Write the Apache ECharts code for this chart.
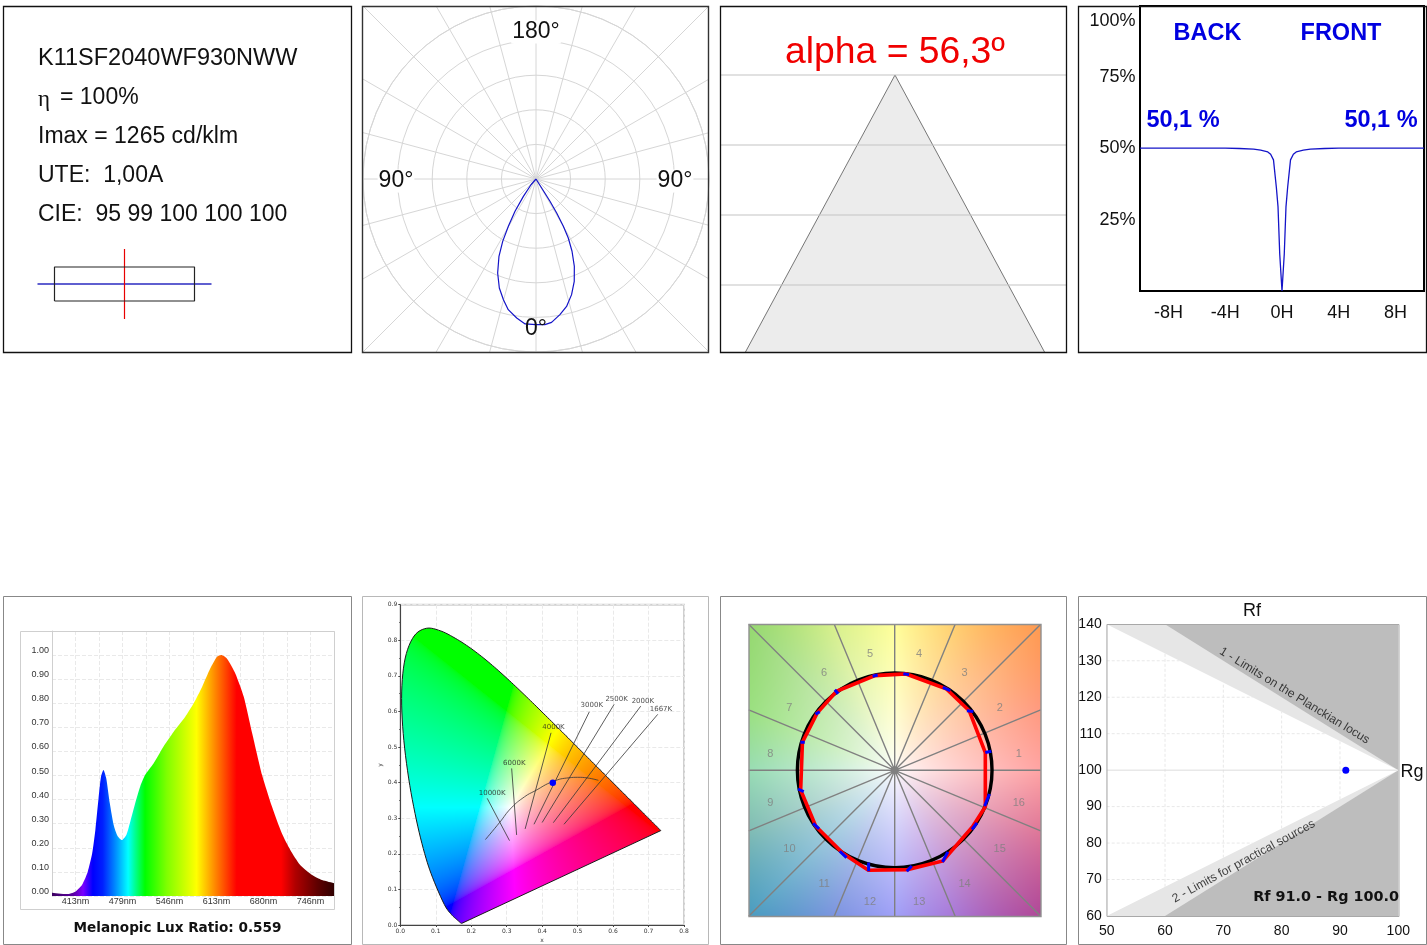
<!DOCTYPE html>
<html><head><meta charset="utf-8">
<style>html,body{margin:0;padding:0;background:#fff}#c{width:1427px;height:945px}</style>
<script src="https://cdn.jsdelivr.net/npm/echarts@6/dist/echarts.min.js"></script></head>
<body><div id="c"></div>
<script>
// ---------- DATA ----------
const infoLines = ['K11SF2040WF930NWW','= 100%','Imax = 1265 cd/klm','UTE:  1,00A','CIE:  95 99 100 100 100'];
const luminaireBox = [[-70,-17],[70,-17],[70,17],[-70,17],[-70,-17]];
const polarAngles = [41,41,36,33,30.3,28.1,25.6,22.2,18.6,15.1,12,7.9,4.3,0,356.5,353.8,350,346.5,342.9,339.5,336.3,333.5,331.3,330,328.7,327.9,327.8,327.8];
const polarValues = [0,66,186,334,475,613,743,880,997,1084,1158,1217,1260,1262,1265,1250,1194,1136,1049,947,827,700,583,474,345,228,92,0];
const spokeAngles = [0,15,30,45,60,75,90,105,120,135,150,165];
const coneX = [-2.136,0,2.136];
const coneY = [-3.957,0,-3.957];
const coneLevels = [0,-1,-2,-3];
const glareX = [-10,-8,-6,-4,-3,-2,-1.5,-1,-0.8,-0.6,-0.4,-0.28,-0.16,0,0.16,0.28,0.4,0.6,0.8,1,1.5,2,3,4,6,8,10];
const glareY = [50.1,50.1,50.1,50.1,50,49.8,49.4,48.8,48,46,36.5,29.5,13,0,13,29.5,36.5,46,48,48.8,49.4,49.8,50,50.1,50.1,50.1,50.1];
const glareTicks = {'-8':'-8H','-4':'-4H','0':'0H','4':'4H','8':'8H'};
const specNm = [380,401,413,422.5,430.6,437,441.5,446,449.5,453,457,462,467.5,473,479,485.5,491,498,505,512,524,538,552.6,569,581,593,604.6,614,620,628,640,652,664,678,692,706,718,732,749,763,780];
const specVal = [.014,.008,.018,.046,.10,.177,.274,.405,.495,.523,.488,.385,.295,.249,.232,.253,.308,.385,.454,.502,.55,.62,.682,.744,.80,.869,.945,.993,1,.986,.924,.827,.675,.502,.371,.26,.191,.129,.087,.066,.053];
const specTickLabels = ['', '413nm','', '479nm','', '546nm','', '613nm','', '680nm','', '746nm',''];
const specStops = [[380,'#3c0060'],[410,'#5a00a0'],[424,'#7a00ff'],[438,'#0000ff'],[452,'#0020ff'],[468,'#0080ff'],[488,'#00ffff'],[498,'#00ff90'],[512,'#00ff00'],[543,'#80ff00'],[585,'#ffff00'],[613,'#ff8000'],[642,'#ff0000'],[705,'#ff0000'],[725,'#b00000'],[756,'#600000'],[780,'#300000']];
const locusX = [.1741,.1714,.1644,.1566,.1440,.1241,.0913,.0687,.0454,.0235,.0082,.0039,.0139,.0389,.0743,.1142,.1547,.1929,.2296,.2658,.3016,.3373,.3731,.4087,.4441,.4788,.5125,.5448,.5752,.6270,.6658,.6915,.7079,.7260,.7347];
const locusY = [.0050,.0051,.0109,.0177,.0297,.0578,.1327,.2007,.2950,.4127,.5384,.6548,.7502,.8120,.8338,.8262,.8059,.7816,.7543,.7243,.6923,.6589,.6245,.5896,.5547,.5202,.4866,.4544,.4242,.3725,.3340,.3083,.2920,.2740,.2653];
const planckX = [.24,.28,.313,.35,.38,.43,.4764,.50,.5267,.5586];
const planckY = [.24,.288,.329,.36,.377,.403,.4137,.415,.4133,.4065];
const cctNames = ['1667K','2000K','2500K','3000K','4000K','6000K','10000K'];
const cctLabelX = [.735,.684,.61,.54,.432,.3215,.259];
const cctLabelY = [.606,.629,.634,.617,.555,.456,.37];
const cctFrom = [[.726,.592],[.678,.615],[.603,.62],[.533,.599],[.425,.54],[.314,.44],[.245,.356]];
const cctTo = [[.4616,.283],[.4315,.2875],[.40,.288],[.377,.283],[.352,.27],[.328,.253],[.308,.237]];
const cieDot = [.43,.40];
const hueBins = ['1','2','3','4','5','6','7','8','9','10','11','12','13','14','15','16'];
const hueLabelX = [1.275,1.079,.718,.251,-.254,-.725,-1.082,-1.278,-1.278,-1.082,-.725,-.254,.251,.718,1.079,1.275];
const hueLabelY = [.172,.639,1.0,1.192,1.192,1.0,.639,.172,-.333,-.804,-1.165,-1.357,-1.357,-1.165,-.804,-.333];
const testX = [.931,.766,.529,.117,-.203,-.598,-.797,-.948,-.966,-.811,-.529,-.271,.131,.495,.80,.931];
const testY = [.182,.612,.838,.99,.973,.811,.588,.289,-.203,-.574,-.856,-1.027,-1.02,-.931,-.58,-.375];
const shiftStart = [[.931,.182],[.742,.612],[.495,.852],[.089,.993],[-.227,.966],[-.615,.828],[-.814,.577],[-.969,.289],[-.993,-.192],[-.838,-.546],[-.564,-.832],[-.268,-1.038],[.124,-1.038],[.491,-.942],[.794,-.608],[.924,-.368]];
const shiftEnd = [[.993,.196],[.808,.605],[.57,.818],[.148,.983],[-.175,.979],[-.581,.787],[-.77,.601],[-.924,.289],[-.935,-.22],[-.777,-.601],[-.495,-.897],[-.268,-.948],[.175,-.983],[.546,-.838],[.845,-.54],[.973,-.244]];
const hueEdgeColors = ['#ffa4a4','#ff9a80','#ff9a50','#ffd070','#ffff9a','#d8f08c','#95d870','#9ae080','#98dcb4','#80bcb4','#4a9cc0','#7c94e0','#a0a0f8','#a878d8','#b04898','#e07898'];
const rfLimitsOuter = [[50,140],[60,140],[100,100],[60,60],[50,60]];
const rfLimitsInner = [[50,140],[100,100],[50,60]];
const rfGridV = [[60,68,132],[70,76,124],[80,84,116],[90,92,108]];
const rfGridH = [[130,62.5],[120,75],[110,87.5],[90,87.5],[80,75],[70,62.5]];
const rfRg = [91,100];
const rfSummary = 'Rf 91.0 - Rg 100.0';

// ---------- LAYOUT ----------
const R = {
  lum:[37.5,249,174,70], pol:[362,6,346,346], cone:[720,6,346,346], gl:[1140,6,284,285],
  spec:[52,631,282,265], cie:[400.3,604.7,283.7,320.3], hue:[748.7,624.3,292,292], rf:[1106.7,624.3,291.6,291.7]
};
const SANS = '"Liberation Sans",Arial,sans-serif', DEJA = '"DejaVu Sans",Verdana,sans-serif';
const gridOf = k => ({left:R[k][0],top:R[k][1],width:R[k][2],height:R[k][3],containLabel:false});
const hidden = (min,max) => ({type:'value',min,max,show:false,splitLine:{show:false}});

// canvas fills
function cieCanvas(){
  const c=document.createElement('canvas');c.width=1427;c.height=945;
  const g=c.getContext('2d'),[L,T,W,H]=R.cie,id=g.createImageData(Math.ceil(W)+2,Math.ceil(H)+2);
  const en=v=>255*Math.pow(v,1/2.2);
  for(let j=0;j<id.height;j++)for(let i=0;i<id.width;i++){
    const x=(i+.5)/W*.8,y=Math.max(1e-3,(H-j-.5)/H*.9),X=x/y,Z=(1-x-y)/y;
    let r=Math.max(0,3.2406*X-1.5372-.4986*Z),gg=Math.max(0,-.9689*X+1.8758+.0415*Z),b=Math.max(0,.0557*X-.204+1.057*Z);
    const m=Math.max(r,gg,b,1e-6),p=(j*id.width+i)*4;
    id.data[p]=en(r/m);id.data[p+1]=en(gg/m);id.data[p+2]=en(b/m);id.data[p+3]=255;
  }
  g.putImageData(id,Math.floor(L),Math.floor(T));return c;
}
function hueCanvas(){
  const S=292,c=document.createElement('canvas');c.width=S;c.height=S;
  const g=c.getContext('2d'),id=g.createImageData(S,S);
  const rgb=hueEdgeColors.map(h=>[1,3,5].map(i=>parseInt(h.substr(i,2),16)));
  for(let j=0;j<S;j++)for(let i=0;i<S;i++){
    const dx=(i+.5-S/2)/(S/2),dy=(S/2-j-.5)/(S/2);
    let a=Math.atan2(dy,dx);if(a<0)a+=2*Math.PI;
    const u=a/(Math.PI/8),k=Math.floor(u)%16,f=u-Math.floor(u),t=Math.pow(Math.min(1,Math.max(Math.abs(dx),Math.abs(dy))),.8),p=(j*S+i)*4;
    for(let q=0;q<3;q++){const e=rgb[k][q]*(1-f)+rgb[(k+1)%16][q]*f;id.data[p+q]=255*(1-t)+e*t;}
    id.data[p+3]=255;
  }
  g.putImageData(id,0,0);return c;
}
const ciePattern={image:cieCanvas(),repeat:'no-repeat'};
// rounds the drawn outline between the locus samples (screen space only)
function rounded(pts){
  const out=[];
  for(let i=0;i<pts.length-1;i++){
    const a=pts[Math.max(0,i-1)],b=pts[i],c=pts[i+1],d=pts[Math.min(pts.length-1,i+2)];
    for(let s=0;s<6;s++){const t=s/6,t2=t*t,t3=t2*t;
      out.push([0,1].map(k=>.5*(2*b[k]+(c[k]-a[k])*t+(2*a[k]-5*b[k]+4*c[k]-d[k])*t2+(3*b[k]-a[k]-3*c[k]+d[k])*t3)));}
  }
  out.push(pts[pts.length-1]);return out;
}

// series helpers
const segs=(idx,items,stroke,lineWidth,extra)=>({type:'custom',xAxisIndex:idx,yAxisIndex:idx,clip:true,silent:true,z:(extra&&extra.z)||3,data:items,
  renderItem:(p,api)=>{const a=api.coord([api.value(0),api.value(1)]),b=api.coord([api.value(2),api.value(3)]);
    return {type:'line',shape:{x1:a[0],y1:a[1],x2:b[0],y2:b[1]},style:{stroke,lineWidth,lineCap:(extra&&extra.cap)||'butt',lineDash:extra&&extra.dash}};}});
const poly=(idx,pts,fill,stroke,lw,z)=>({type:'custom',xAxisIndex:idx,yAxisIndex:idx,clip:true,silent:true,z,data:[0],
  renderItem:(p,api)=>({type:'polygon',shape:{points:pts.map(q=>api.coord(q))},style:{fill,stroke:stroke||null,lineWidth:lw||0}})});
const labels=(idx,pts,size,color,font,rotates,z)=>({type:'scatter',xAxisIndex:idx,yAxisIndex:idx,symbolSize:0,silent:true,z:z||6,
  data:pts.map((q,i)=>({value:[q[0],q[1]],label:{formatter:q[2],rotate:rotates?rotates[i]:0}})),
  label:{show:true,position:'inside',fontSize:size,color,fontFamily:font}});

// ---------- AXES ----------
const grid=[gridOf('lum'),gridOf('pol'),gridOf('cone'),
  Object.assign(gridOf('gl'),{show:true,borderColor:'#000',borderWidth:2}),
  gridOf('spec'),
  Object.assign(gridOf('cie'),{show:true,borderColor:'#cfcfcf',borderWidth:2}),
  gridOf('hue'),gridOf('rf')];
const dash={show:true,lineStyle:{color:'#e9e9e9',type:'dashed',width:1}};
const xAxis=[
  hidden(-87,87),hidden(-1508.7,1491.3),hidden(-2.5,2.443),
  {type:'value',min:-10,max:10,interval:2,axisLine:{show:false},axisTick:{show:false},splitLine:{show:false},
   axisLabel:{margin:13,fontSize:18,color:'#111',fontFamily:SANS,formatter:v=>glareTicks[v]||''}},
  {type:'value',min:0,max:12,interval:1,axisLine:{show:false},axisTick:{show:false},splitLine:dash,
   axisLabel:{margin:1,fontSize:9,color:'#333',fontFamily:SANS,formatter:v=>specTickLabels[v]||''}},
  {type:'value',min:0,max:.8,interval:.1,name:'x',nameLocation:'middle',nameGap:12,nameTextStyle:{fontSize:6,color:'#333',fontFamily:DEJA},
   axisLine:{lineStyle:{color:'#444',width:1}},axisTick:{length:2,lineStyle:{color:'#444'}},minorTick:{show:true,length:1,splitNumber:2,lineStyle:{color:'#444'}},splitLine:dash,
   axisLabel:{margin:3,fontSize:6,color:'#333',fontFamily:DEJA,formatter:v=>v.toFixed(1)}},
  hidden(-1.5,1.5),
  {type:'value',min:50,max:100,interval:10,axisLine:{show:false},axisTick:{show:false},splitLine:{show:false},
   axisLabel:{margin:8,fontSize:14,color:'#111',fontFamily:SANS}}
];
xAxis.forEach((a,i)=>a.gridIndex=i);
const yAxis=[
  hidden(-35,35),hidden(-1500,1500),hidden(-3.957,.986),
  {type:'value',min:0,max:100,interval:25,axisLine:{show:false},axisTick:{show:false},splitLine:{show:false},
   axisLabel:{margin:4.5,fontSize:18,color:'#111',fontFamily:SANS,verticalAlignMaxLabel:'top',padding:[6,0,0,0],formatter:v=>v?v+'%':''}},
  {type:'value',min:0,max:1.1,interval:.1,axisLine:{show:true,lineStyle:{color:'#cfcfcf',width:1}},axisTick:{show:false},splitLine:dash,
   axisLabel:{margin:3,fontSize:9,color:'#333',fontFamily:SANS,verticalAlign:'bottom',formatter:v=>v>1.05?'':v.toFixed(2)}},
  {type:'value',min:0,max:.9,interval:.1,name:'y',nameLocation:'middle',nameGap:15,nameTextStyle:{fontSize:6,color:'#333',fontFamily:DEJA},
   axisLine:{lineStyle:{color:'#444',width:1}},axisTick:{length:2,lineStyle:{color:'#444'}},minorTick:{show:true,length:1,splitNumber:2,lineStyle:{color:'#444'}},splitLine:dash,
   axisLabel:{margin:3,fontSize:6,color:'#333',fontFamily:DEJA,formatter:v=>v.toFixed(1)}},
  hidden(-1.5,1.5),
  {type:'value',min:60,max:140,interval:10,axisLine:{show:false},axisTick:{show:false},splitLine:{show:false},
   axisLabel:{margin:5,fontSize:14,color:'#111',fontFamily:SANS,padding:[5,0,0,0]}}
];
yAxis.forEach((a,i)=>a.gridIndex=i);

// ---------- SERIES ----------
const series=[];
// luminaire symbol
series.push({type:'line',xAxisIndex:0,yAxisIndex:0,data:luminaireBox,showSymbol:false,silent:true,lineStyle:{color:'#222',width:1.2}});
series.push(segs(0,[[-87,0,87,0]],'#2a2ac0',1.3));
series.push(segs(0,[[0,-35,0,35]],'#e80000',1.2));
// polar spokes and intensity curve
series.push(segs(1,spokeAngles.map(a=>{const t=a*Math.PI/180,s=3000*Math.sin(t),c=3000*Math.cos(t);return [-s,-c,s,c];}),'#d6d6d6',1,{z:1}));
series.push({type:'line',coordinateSystem:'polar',data:polarAngles.map((a,i)=>[polarValues[i],a]),showSymbol:false,silent:true,clip:false,z:4,lineStyle:{color:'#1414c8',width:1.2}});
// cone
series.push({type:'line',xAxisIndex:2,yAxisIndex:2,data:coneX.map((x,i)=>[x,coneY[i]]),showSymbol:false,silent:true,z:2,lineStyle:{color:'#555',width:.8},areaStyle:{color:'#ececec',opacity:1,origin:'start'}});
series.push(segs(2,coneLevels.map(v=>[-2.5,v,2.443,v]),'#c4c4c4',1.2,{z:3}));
// glare curve
series.push({type:'line',xAxisIndex:3,yAxisIndex:3,data:glareX.map((x,i)=>[x,glareY[i]]),showSymbol:false,silent:true,lineStyle:{color:'#1414c8',width:1.3}});
// spectrum
const toTick=nm=>(nm-380)/(400/12);
series.push({type:'line',xAxisIndex:4,yAxisIndex:4,data:specNm.map((n,i)=>[toTick(n),specVal[i]]),showSymbol:false,silent:true,smooth:.2,z:3,lineStyle:{width:0},
  areaStyle:{opacity:1,color:new echarts.graphic.LinearGradient(0,0,1,0,specStops.map(s=>({offset:(s[0]-380)/400,color:s[1]})))}});
// CIE diagram
series.push({type:'custom',xAxisIndex:5,yAxisIndex:5,silent:true,z:3,data:[0],renderItem:(p,api)=>({type:'polygon',
  shape:{points:rounded(locusX.map((x,i)=>api.coord([x,locusY[i]])))},style:{fill:ciePattern,stroke:'#1a1a1a',lineWidth:1}})});
series.push({type:'line',xAxisIndex:5,yAxisIndex:5,data:planckX.map((x,i)=>[x,planckY[i]]),showSymbol:false,silent:true,smooth:true,z:4,lineStyle:{color:'#333',width:.8}});
series.push(segs(5,cctFrom.map((f,i)=>[f[0],f[1],cctTo[i][0],cctTo[i][1]]),'#333',.8,{z:4}));
series.push(labels(5,cctNames.map((n,i)=>[cctLabelX[i],cctLabelY[i],n]),7,'#222',DEJA));
series.push({type:'scatter',xAxisIndex:5,yAxisIndex:5,data:[cieDot],symbolSize:6.5,silent:true,z:7,itemStyle:{color:'#0000ff',opacity:1}});
// colour vector graphic
const spoke=[];for(let i=0;i<8;i++){const t=i*Math.PI/8,s=Math.min(1.5/Math.abs(Math.cos(t)||1e-9),1.5/Math.abs(Math.sin(t)||1e-9));spoke.push([-s*Math.cos(t),-s*Math.sin(t),s*Math.cos(t),s*Math.sin(t)]);}
series.push(segs(6,spoke,'#808080',1.4,{z:3}));
series.push(labels(6,hueBins.map((b,i)=>[hueLabelX[i],hueLabelY[i],b]),11,'#808080',SANS));
series.push({type:'custom',xAxisIndex:6,yAxisIndex:6,silent:true,z:4,data:[[0,0]],renderItem:(p,api)=>{const c=api.coord([0,0]),r=api.size([1,1])[0];
  return {type:'group',children:[{type:'circle',shape:{cx:c[0],cy:c[1],r},style:{fill:null,stroke:'#000',lineWidth:3.4}},{type:'circle',shape:{cx:c[0],cy:c[1],r:4},style:{fill:'#808080'}}]};}});
series.push({type:'custom',xAxisIndex:6,yAxisIndex:6,silent:true,z:5,data:[0],renderItem:(p,api)=>({type:'polyline',shape:{points:testX.concat(testX[0]).map((x,i)=>api.coord([x,i<16?testY[i]:testY[0]]))},style:{fill:null,stroke:'#ff0000',lineWidth:3.6,lineJoin:'miter'}})});
series.push(segs(6,shiftStart.map((s,i)=>[s[0],s[1],shiftEnd[i][0],shiftEnd[i][1]]),'#0000ff',3,{z:6}));
// Rf / Rg
series.push(poly(7,[[50,60],[100,60],[100,140],[50,140]],'#bdbdbd',null,0,1));
series.push(poly(7,rfLimitsOuter,'#e6e6e6',null,0,2));
series.push(poly(7,rfLimitsInner,'#ffffff',null,0,3));
series.push(segs(7,rfGridV.map(v=>[v[0],v[1],v[0],v[2]]).concat(rfGridH.map(h=>[50,h[0],h[1],h[0]])),'#e8e8e8',1,{z:4,dash:[3,2]}));
series.push(segs(7,[[50,100,100,100]],'#dcdcdc',1,{z:4}));
series.push(labels(7,[[82.2,120.4,'1 - Limits on the Planckian locus'],[73.5,75,'2 - Limits for practical sources']],12.1,'#111',SANS,[-31.5,28.6]));
series.push({type:'scatter',xAxisIndex:7,yAxisIndex:7,data:[rfRg],symbolSize:7,silent:true,z:7,itemStyle:{color:'#0000ff',opacity:1}});

// ---------- FRAMES AND TEXT ----------
const frame=(x,y,w,h,stroke,lw)=>({type:'rect',z:50,silent:true,shape:{x:x+.5,y:y+.5,width:w,height:h},style:{fill:null,stroke,lineWidth:lw||1}});
const txt=(text,x,y,size,fill,o)=>Object.assign({type:'text',z:60,silent:true,style:Object.assign({text,x,y,fontSize:size,fill,fontFamily:SANS,align:'left',verticalAlign:'middle'},o||{})});
const C={align:'center'},BL={align:'center',fontWeight:'bold'};
const graphic=[
  frame(3,6,348,346,'#111',1.3),frame(362,6,346,346,'#333',1.4),frame(720,6,346,346,'#111',1.3),frame(1078,6,348,346,'#111',1.3),
  frame(3,596,348,348,'#888'),frame(362,596,346,348,'#b8b8b8'),frame(720,596,346,348,'#888'),frame(1078,596,348,348,'#888'),
  frame(20,631,314,278,'#cfcfcf'),frame(748.5,624,292,292,'#909090',1.4),frame(1106.5,624,292,292,'#a8a8a8'),
  {type:'image',z:0,silent:true,style:{image:hueCanvas(),x:748.7,y:624.3,width:292,height:292}},
  txt(infoLines[0],38,59,23.5,'#111'),txt('\u03b7',38,100,23,'#111',{fontFamily:'"Liberation Serif",serif'}),txt(infoLines[1],60,98,23,'#111'),
  txt(infoLines[2],38,137,23,'#111'),txt(infoLines[3],38,176,23,'#111'),txt(infoLines[4],38,214.5,23,'#111'),
  txt('180\u00b0',536,32,23,'#111',{align:'center',backgroundColor:'#fff',padding:[0,1]}),
  txt('90\u00b0',396,181,23,'#111',{align:'center',backgroundColor:'#fff',padding:[0,1]}),
  txt('90\u00b0',675,181,23,'#111',{align:'center',backgroundColor:'#fff',padding:[0,1]}),
  txt('0\u00b0',536,329,23,'#111',C),
  txt('alpha = 56,3\u00ba',895,52.5,37.3,'#f00000',C),
  txt('BACK',1207.5,34,23.5,'#0000e0',BL),txt('FRONT',1341,34,23.5,'#0000e0',BL),
  txt('50,1 %',1183,120.5,23.5,'#0000e0',BL),txt('50,1 %',1381,120.5,23.5,'#0000e0',BL),
  txt('Melanopic Lux Ratio: 0.559',177.5,928,13.6,'#111',{align:'center',fontWeight:'bold',fontFamily:DEJA}),
  txt('Rf',1252,611,18,'#111',C),txt('Rg',1412,772,18,'#111',C),
  txt(rfSummary,1399,897,14.4,'#111',{align:'right',fontWeight:'bold',fontFamily:DEJA})
];

const chart=echarts.init(document.getElementById('c'),null,{renderer:'canvas'});
chart.setOption({animation:false,backgroundColor:'#fff',tooltip:{show:false},
  polar:{center:[536,179],radius:173},
  radiusAxis:{min:0,max:1500,interval:300,axisLine:{show:false},axisTick:{show:false},axisLabel:{show:false},splitLine:{show:true,lineStyle:{color:'#d6d6d6',width:1}}},
  angleAxis:{type:'value',min:0,max:360,interval:15,startAngle:270,axisLine:{show:true,lineStyle:{color:'#d6d6d6',width:1}},axisTick:{show:false},axisLabel:{show:false},splitLine:{show:false}},
  grid,xAxis,yAxis,series,graphic});
</script></body></html>
